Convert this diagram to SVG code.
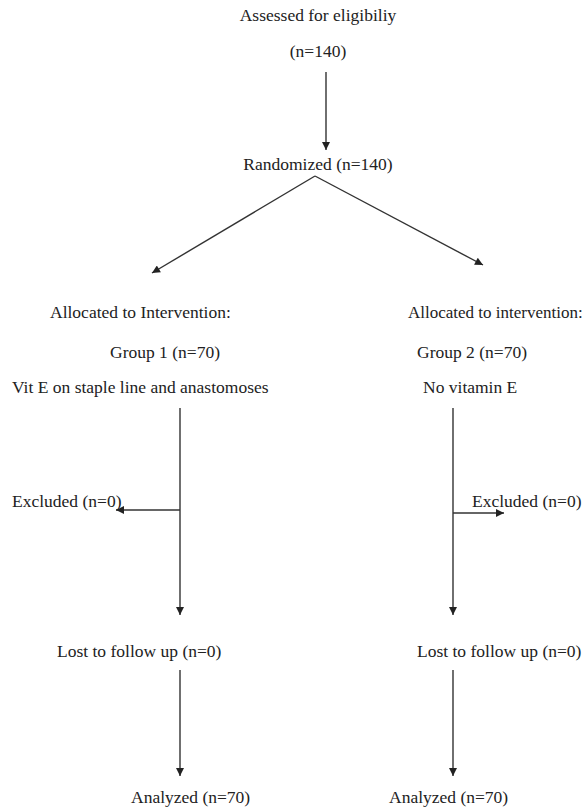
<svg xmlns="http://www.w3.org/2000/svg" width="585" height="809" viewBox="0 0 585 809">
<defs>
<style>
text{font-family:"Liberation Serif","Times New Roman",serif;font-size:17.5px;fill:#222;}
.ln{stroke:#333;stroke-width:1.4;fill:none;}
</style>
<marker id="ah" viewBox="0 0 10 10" refX="10" refY="5" markerWidth="9" markerHeight="8" markerUnits="userSpaceOnUse" orient="auto">
<path d="M0,0 L10,5 L0,10 z" fill="#222"/>
</marker>
</defs>
<rect width="585" height="809" fill="#fff"/>
<g id="connectors">
<line class="ln" x1="326" y1="72" x2="326" y2="150" marker-end="url(#ah)"/>
<line class="ln" x1="315" y1="176" x2="152" y2="273" marker-end="url(#ah)"/>
<line class="ln" x1="315" y1="176" x2="483" y2="265" marker-end="url(#ah)"/>
<line class="ln" x1="180" y1="408" x2="180" y2="615" marker-end="url(#ah)"/>
<line class="ln" x1="180" y1="510" x2="116" y2="510" marker-end="url(#ah)"/>
<line class="ln" x1="453" y1="408" x2="453" y2="615" marker-end="url(#ah)"/>
<line class="ln" x1="453" y1="513" x2="504" y2="513" marker-end="url(#ah)"/>
<line class="ln" x1="180" y1="670" x2="180" y2="776" marker-end="url(#ah)"/>
<line class="ln" x1="453" y1="670" x2="453" y2="776" marker-end="url(#ah)"/>
</g>
<g id="assessed"><text x="318" y="21" text-anchor="middle">Assessed for eligibiliy</text><text x="318" y="57" text-anchor="middle">(n=140)</text></g>
<g id="randomized"><text x="318" y="170" text-anchor="middle">Randomized (n=140)</text></g>
<g id="group1">
<text x="50" y="318">Allocated to Intervention:</text>
<text x="110" y="358">Group 1 (n=70)</text>
<text x="12" y="393">Vit E on staple line and anastomoses</text>
</g>
<g id="group2">
<text x="408" y="318" style="font-size:17px">Allocated to intervention:</text>
<text x="417" y="358">Group 2 (n=70)</text>
<text x="423" y="393">No vitamin E</text>
</g>
<g id="excluded1"><text x="12" y="507">Excluded (n=0)</text></g>
<g id="excluded2"><text x="472" y="507">Excluded (n=0)</text></g>
<g id="lost1"><text x="57" y="657">Lost to follow up (n=0)</text></g>
<g id="lost2"><text x="417" y="657">Lost to follow up (n=0)</text></g>
<g id="analyzed1"><text x="131" y="803">Analyzed (n=70)</text></g>
<g id="analyzed2"><text x="389" y="803">Analyzed (n=70)</text></g>
</svg>
